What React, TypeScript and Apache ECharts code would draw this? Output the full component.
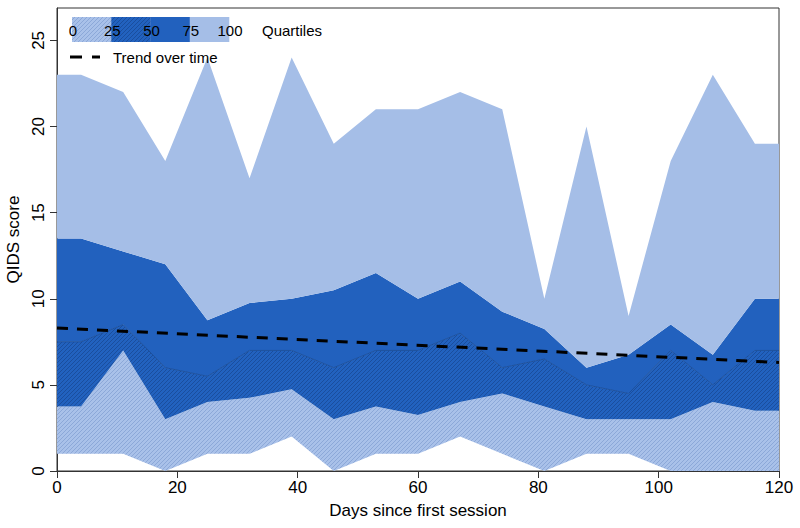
import React, { useEffect, useRef } from 'react';
import * as echarts from 'echarts';

const days = [0, 4, 11, 18, 25, 32, 39, 46, 53, 60, 67, 74, 81, 88, 95, 102, 109, 116, 120];
const minScore = [1, 1, 1, 0, 1, 1, 2, 0, 1, 1, 2, 1, 0, 1, 1, 0, 0, 0, 0];
const q1Score = [3.75, 3.75, 7, 3, 4, 4.25, 4.75, 3, 3.75, 3.25, 4, 4.5, 3.75, 3, 3, 3, 4, 3.5, 3.5];
const medianScore = [7.5, 7.5, 8.5, 6, 5.5, 7, 7, 6, 7, 7, 8, 6, 6.5, 5, 4.5, 7, 5, 7, 7];
const q3Score = [13.5, 13.5, 12.75, 12, 8.75, 9.75, 10, 10.5, 11.5, 10, 11, 9.25, 8.25, 6, 6.75, 8.5, 6.75, 10, 10];
const maxScore = [23, 23, 22, 18, 24, 17, 24, 19, 21, 21, 22, 21, 10, 20, 9, 18, 23, 19, 19];
const trendDays = [0, 120];
const trendScore = [8.3, 6.3];
const xTicks = [0, 20, 40, 60, 80, 100, 120];
const yTicks = [0, 5, 10, 15, 20, 25];
const legendBreaks = ['0', '25', '50', '75', '100'];

const FONT = 'Liberation Sans, Arial, Helvetica, sans-serif';
const LIGHT = '#A5BEE7';
const DARK = '#2261BE';

function hatch(base: string, stroke: string) {
  const c = document.createElement('canvas');
  c.width = 4;
  c.height = 4;
  const g = c.getContext('2d')!;
  g.fillStyle = base;
  g.fillRect(0, 0, 4, 4);
  g.strokeStyle = stroke;
  g.lineWidth = 1;
  g.beginPath();
  g.moveTo(-1, 5);
  g.lineTo(5, -1);
  g.moveTo(-1, 1);
  g.lineTo(1, -1);
  g.moveTo(3, 5);
  g.lineTo(5, 3);
  g.stroke();
  return { image: c, repeat: 'repeat', imageWidth: 4, imageHeight: 4 } as any;
}

export default function App() {
  const ref = useRef<HTMLDivElement>(null);

  useEffect(() => {
    document.body.style.margin = '0';
    if (!ref.current) return;
    const chart = echarts.init(ref.current, null, { renderer: 'svg' });
    const hatchLight = hatch('#A9C1E9', '#8CA8D8');
    const hatchDark = hatch('#2262BF', '#1A4E9E');

    const pairs = (arr: number[]) => days.map((d, i) => [d, arr[i]]);

    const band = (name: string, lower: number[], upper: number[], fill: any) => ({
      type: 'custom',
      name,
      silent: true,
      clip: true,
      data: days.map((d, i) => [d, lower[i], upper[i]]),
      encode: { x: 0, y: [1, 2] },
      renderItem: (params: any, api: any) => {
        if (params.dataIndex !== 0) return null;
        const pts: number[][] = [];
        for (let i = 0; i < days.length; i++) pts.push(api.coord([days[i], upper[i]]));
        for (let i = days.length - 1; i >= 0; i--) pts.push(api.coord([days[i], lower[i]]));
        return {
          type: 'polygon',
          shape: { points: pts },
          style: { fill, stroke: null },
        };
      },
    });

    const graphics: any[] = [];
    const legX = 72;
    const segW = 39.25;
    const fills = [hatchLight, hatchDark, DARK, LIGHT];
    fills.forEach((f, i) => {
      graphics.push({
        type: 'rect',
        z: 100,
        shape: { x: legX + i * segW, y: 17, width: segW + 0.3, height: 25 },
        style: { fill: f },
      });
    });
    legendBreaks.forEach((t, i) => {
      graphics.push({
        type: 'text',
        z: 101,
        x: legX + 1 + i * segW,
        y: 30,
        style: { text: t, fontSize: 15, fontFamily: FONT, fill: '#000', textAlign: 'center', textVerticalAlign: 'middle' },
      });
    });
    graphics.push({
      type: 'text',
      z: 101,
      x: 262,
      y: 30,
      style: { text: 'Quartiles', fontSize: 15, fontFamily: FONT, fill: '#000', textAlign: 'left', textVerticalAlign: 'middle' },
    });
    graphics.push({
      type: 'line',
      z: 101,
      shape: { x1: 70, y1: 57, x2: 100, y2: 57 },
      style: { stroke: '#000', lineWidth: 3, lineDash: [12, 10] },
    });
    graphics.push({
      type: 'text',
      z: 101,
      x: 113,
      y: 57,
      style: { text: 'Trend over time', fontSize: 15, fontFamily: FONT, fill: '#000', textAlign: 'left', textVerticalAlign: 'middle' },
    });

    chart.setOption({
      animation: false,
      backgroundColor: '#fff',
      textStyle: { fontFamily: FONT },
      grid: {
        left: 57,
        right: 21,
        top: 8,
        bottom: 57,
        show: true,
        borderColor: '#333',
        borderWidth: 1,
        backgroundColor: 'transparent',
        containLabel: false,
        outerBoundsMode: 'none',
      },
      xAxis: {
        type: 'value',
        min: 0,
        max: 120,
        interval: 20,
        axisLine: { show: true, lineStyle: { color: '#333', width: 1 } },
        axisTick: { show: true, length: 7, customValues: xTicks, lineStyle: { color: '#333' } },
        axisLabel: { customValues: xTicks, fontSize: 17, color: '#000', margin: 8, fontFamily: FONT },
        splitLine: { show: false },
        name: 'Days since first session',
        nameLocation: 'middle',
        nameGap: 31,
        nameTextStyle: { fontSize: 17, color: '#000', fontFamily: FONT },
      },
      yAxis: {
        type: 'value',
        min: 0,
        max: 26.88,
        axisLine: { show: true, lineStyle: { color: '#333', width: 1 } },
        axisTick: { show: true, length: 7, customValues: yTicks, lineStyle: { color: '#333' } },
        axisLabel: { customValues: yTicks, rotate: 90, fontSize: 17, color: '#000', margin: 10, fontFamily: FONT },
        splitLine: { show: false },
        name: 'QIDS score',
        nameLocation: 'middle',
        nameGap: 33,
        nameRotate: 90,
        nameTextStyle: { fontSize: 17, color: '#000', fontFamily: FONT },
      },
      series: [
        band('0-25', minScore, q1Score, hatchLight),
        band('25-50', q1Score, medianScore, hatchDark),
        band('50-75', medianScore, q3Score, DARK),
        band('75-100', q3Score, maxScore, LIGHT),
        {
          type: 'line',
          name: 'median',
          symbol: 'none',
          silent: true,
          data: pairs(medianScore),
          lineStyle: { color: '#1B4F9C', width: 1 },
        },
        {
          type: 'line',
          name: 'Trend over time',
          symbol: 'none',
          silent: true,
          data: trendDays.map((d, i) => [d, trendScore[i]]),
          lineStyle: { color: '#000', width: 3, type: [11, 9] },
        },
      ],
      graphic: graphics,
    } as any);

    return () => chart.dispose();
  }, []);

  return <div ref={ref} style={{ width: 800, height: 528 }} />;
}
